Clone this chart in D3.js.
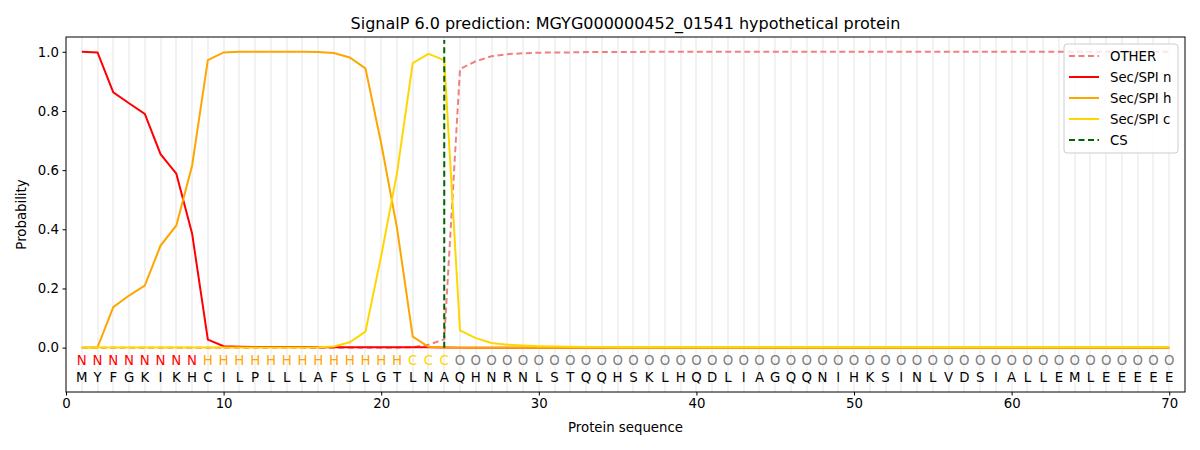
<!DOCTYPE html>
<html>
<head>
<meta charset="utf-8">
<script src="https://cdn.jsdelivr.net/npm/d3@7"></script>
<style>
  body { margin: 0; background: #fff; }
  text { font-family: "DejaVu Sans", sans-serif; }
</style>
</head>
<body>
<div id="chart"></div>
<script>
const svgWidth = 1200,
    svgHeight = 450,
    margin = { top: 37, right: 15, bottom: 58, left: 66 },
    width = svgWidth - margin.left - margin.right,
    height = svgHeight - margin.top - margin.bottom;

// data
const sequence = ["M","Y","F","G","K","I","K","H","C","I","L","P","L","L","L","A","F","S","L","G","T","L","N","A",
    "Q","H","N","R","N","L","S","T","Q","Q","H","S","K","L","H","Q","D","L","I","A","G","Q","Q","N","I","H",
    "K","S","I","N","L","V","D","S","I","A","L","L","E","M","L","E","E","E","E","E"];
const regionLabels = ["N","N","N","N","N","N","N","N","H","H","H","H","H","H","H","H","H","H","H","H","H","C","C","C",
    "O","O","O","O","O","O","O","O","O","O","O","O","O","O","O","O","O","O","O","O","O","O","O","O","O","O",
    "O","O","O","O","O","O","O","O","O","O","O","O","O","O","O","O","O","O","O","O"];
const otherProb = [0,0,0,0,0,0,0,0,0,0,0,0,0,0,0,0,0,0,0,0,0,0.001,0.01,0.028,
    0.942,0.968,0.985,0.992,0.995,0.997,0.998,0.998,0.999,0.999,0.999,0.999,1,1,1,1,1,1,1,1,1,1,1,1,1,1,
    1,1,1,1,1,1,1,1,1,1,1,1,1,1,1,1,1,1,1,1];
const secN = [1.0,0.998,0.863,0.826,0.79,0.654,0.588,0.386,0.027,0.005,0.003,0.002,0.002,0.002,0.002,0.001,0.001,0.001,0.001,0.001,0.001,0.001,0.001,0.0005,
    0,0,0,0,0,0,0,0,0,0,0,0,0,0,0,0,0,0,0,0,0,0,0,0,0,0,
    0,0,0,0,0,0,0,0,0,0,0,0,0,0,0,0,0,0,0,0];
const secH = [0,0.001,0.137,0.176,0.21,0.345,0.413,0.615,0.972,0.998,1,1,1,1,1,0.999,0.996,0.981,0.944,0.69,0.405,0.037,0.003,0.0005,
    0,0,0,0,0,0,0,0,0,0,0,0,0,0,0,0,0,0,0,0,0,0,0,0,0,0,
    0,0,0,0,0,0,0,0,0,0,0,0,0,0,0,0,0,0,0,0];
const secC = [0.0005,0.0005,0.0005,0.0005,0.0005,0.0005,0.0005,0.0005,0.0005,0.0005,0.0005,0.0005,0.0005,0.0005,0.0005,0.001,0.004,0.018,0.054,0.31,0.59,0.962,0.993,0.972,
    0.058,0.032,0.016,0.01,0.007,0.005,0.004,0.003,0.002,0.002,0.001,0.001,0.001,0.001,0.001,0.001,0.001,0.001,0.001,0.001,0.001,0.001,0.001,0.001,0.001,0.001,
    0.001,0.001,0.001,0.001,0.001,0.001,0.001,0.001,0.001,0.001,0.001,0.001,0.001,0.001,0.001,0.001,0.001,0.001,0.001,0.001];
const cleavageSite = 24;
const xTicks = [0, 10, 20, 30, 40, 50, 60, 70];
const yTicks = [0, 0.2, 0.4, 0.6, 0.8, 1.0];

const series = [
    { name: "OTHER", values: otherProb, color: "#f08080", dash: "6,3.5" },
    { name: "Sec/SPI n", values: secN, color: "#ff0000", dash: null },
    { name: "Sec/SPI h", values: secH, color: "#ffa500", dash: null },
    { name: "Sec/SPI c", values: secC, color: "#ffd700", dash: null }
];
const labelColors = { N: "#ff0000", H: "#ffa500", C: "#ffd700", O: "#808080" };

let svg = d3.select("#chart").append("svg")
    .attr("width", svgWidth)
    .attr("height", svgHeight);

let xScale = d3.scaleLinear().domain([0, 71]).range([margin.left, margin.left + width]);
let yScale = d3.scaleLinear().domain([-0.15, 1.05]).range([margin.top + height, margin.top]);

let plot = svg.append("g");

// vertical position grid (snapped to whole pixels so they stay light)
plot.selectAll("line.grid")
    .data(sequence)
    .join("line")
    .attr("class", "grid")
    .attr("x1", (d, i) => Math.round(xScale(i + 1)))
    .attr("x2", (d, i) => Math.round(xScale(i + 1)))
    .attr("y1", margin.top)
    .attr("y2", margin.top + height)
    .attr("stroke", "#f2f2f2")
    .attr("stroke-width", 2);

// probability lines
let line = d3.line()
    .x((d, i) => xScale(i + 1))
    .y(d => yScale(d));

plot.selectAll("path.series")
    .data(series)
    .join("path")
    .attr("class", "series")
    .attr("d", d => line(d.values))
    .attr("fill", "none")
    .attr("stroke", d => d.color)
    .attr("stroke-width", 2)
    .attr("stroke-dasharray", d => d.dash);

// cleavage site
plot.append("line")
    .attr("x1", xScale(cleavageSite))
    .attr("x2", xScale(cleavageSite))
    .attr("y1", yScale(0))
    .attr("y2", yScale(1.04))
    .attr("stroke", "#006400")
    .attr("stroke-width", 2)
    .attr("stroke-dasharray", "6,3.5");

// sequence text
plot.selectAll("text.region")
    .data(regionLabels)
    .join("text")
    .attr("class", "region")
    .attr("x", (d, i) => xScale(i + 1))
    .attr("y", yScale(-0.045))
    .attr("text-anchor", "middle")
    .attr("dominant-baseline", "central")
    .attr("font-size", "13.3px")
    .attr("fill", d => labelColors[d])
    .text(d => d);

plot.selectAll("text.aa")
    .data(sequence)
    .join("text")
    .attr("class", "aa")
    .attr("x", (d, i) => xScale(i + 1))
    .attr("y", yScale(-0.1))
    .attr("text-anchor", "middle")
    .attr("dominant-baseline", "central")
    .attr("font-size", "13.3px")
    .attr("fill", "#000")
    .text(d => d);

// axes
let xAxis = svg.append("g")
    .attr("transform", `translate(0, ${margin.top + height})`)
    .call(d3.axisBottom(xScale).tickValues(xTicks).tickSize(3.5).tickPadding(3.5).tickFormat(d3.format("d")));
let yAxis = svg.append("g")
    .attr("transform", `translate(${margin.left}, 0)`)
    .call(d3.axisLeft(yScale).tickValues(yTicks).tickSize(3.5).tickPadding(3.5).tickFormat(d3.format(".1f")));
[xAxis, yAxis].forEach(a => {
    a.select(".domain").remove();
    a.selectAll("text").attr("font-size", "13.3px").attr("font-family", "DejaVu Sans, sans-serif").attr("fill", "#000");
    a.selectAll("line").attr("stroke", "#000").attr("stroke-width", 1);
});

// frame
svg.append("rect")
    .attr("x", margin.left)
    .attr("y", margin.top)
    .attr("width", width)
    .attr("height", height)
    .attr("fill", "none")
    .attr("stroke", "#000")
    .attr("stroke-width", 1);

// titles
svg.append("text")
    .attr("x", margin.left + width / 2)
    .attr("y", 29)
    .attr("text-anchor", "middle")
    .attr("font-size", "16px")
    .text("SignalP 6.0 prediction: MGYG000000452_01541 hypothetical protein");
svg.append("text")
    .attr("x", margin.left + width / 2)
    .attr("y", 432)
    .attr("text-anchor", "middle")
    .attr("font-size", "13.3px")
    .text("Protein sequence");
svg.append("text")
    .attr("transform", "rotate(-90)")
    .attr("x", -(margin.top + height / 2))
    .attr("y", 26)
    .attr("text-anchor", "middle")
    .attr("font-size", "13.3px")
    .text("Probability");

// legend
let legendItems = series.concat([{ name: "CS", color: "#006400", dash: "6,3.5" }]);
let legend = svg.append("g").attr("transform", "translate(1064, 44)");
legend.append("rect")
    .attr("width", 114)
    .attr("height", 109)
    .attr("rx", 3)
    .attr("fill", "#fff")
    .attr("fill-opacity", 0.8)
    .attr("stroke", "#cccccc");
let rows = legend.selectAll("g.row")
    .data(legendItems)
    .join("g")
    .attr("class", "row")
    .attr("transform", (d, i) => `translate(0, ${12 + i * 21})`);
rows.append("line")
    .attr("x1", 5).attr("x2", 35)
    .attr("stroke", d => d.color)
    .attr("stroke-width", 2)
    .attr("stroke-dasharray", d => d.dash);
rows.append("text")
    .attr("x", 46)
    .attr("dominant-baseline", "central")
    .attr("font-size", "13.3px")
    .text(d => d.name);
</script>
</body>
</html>
